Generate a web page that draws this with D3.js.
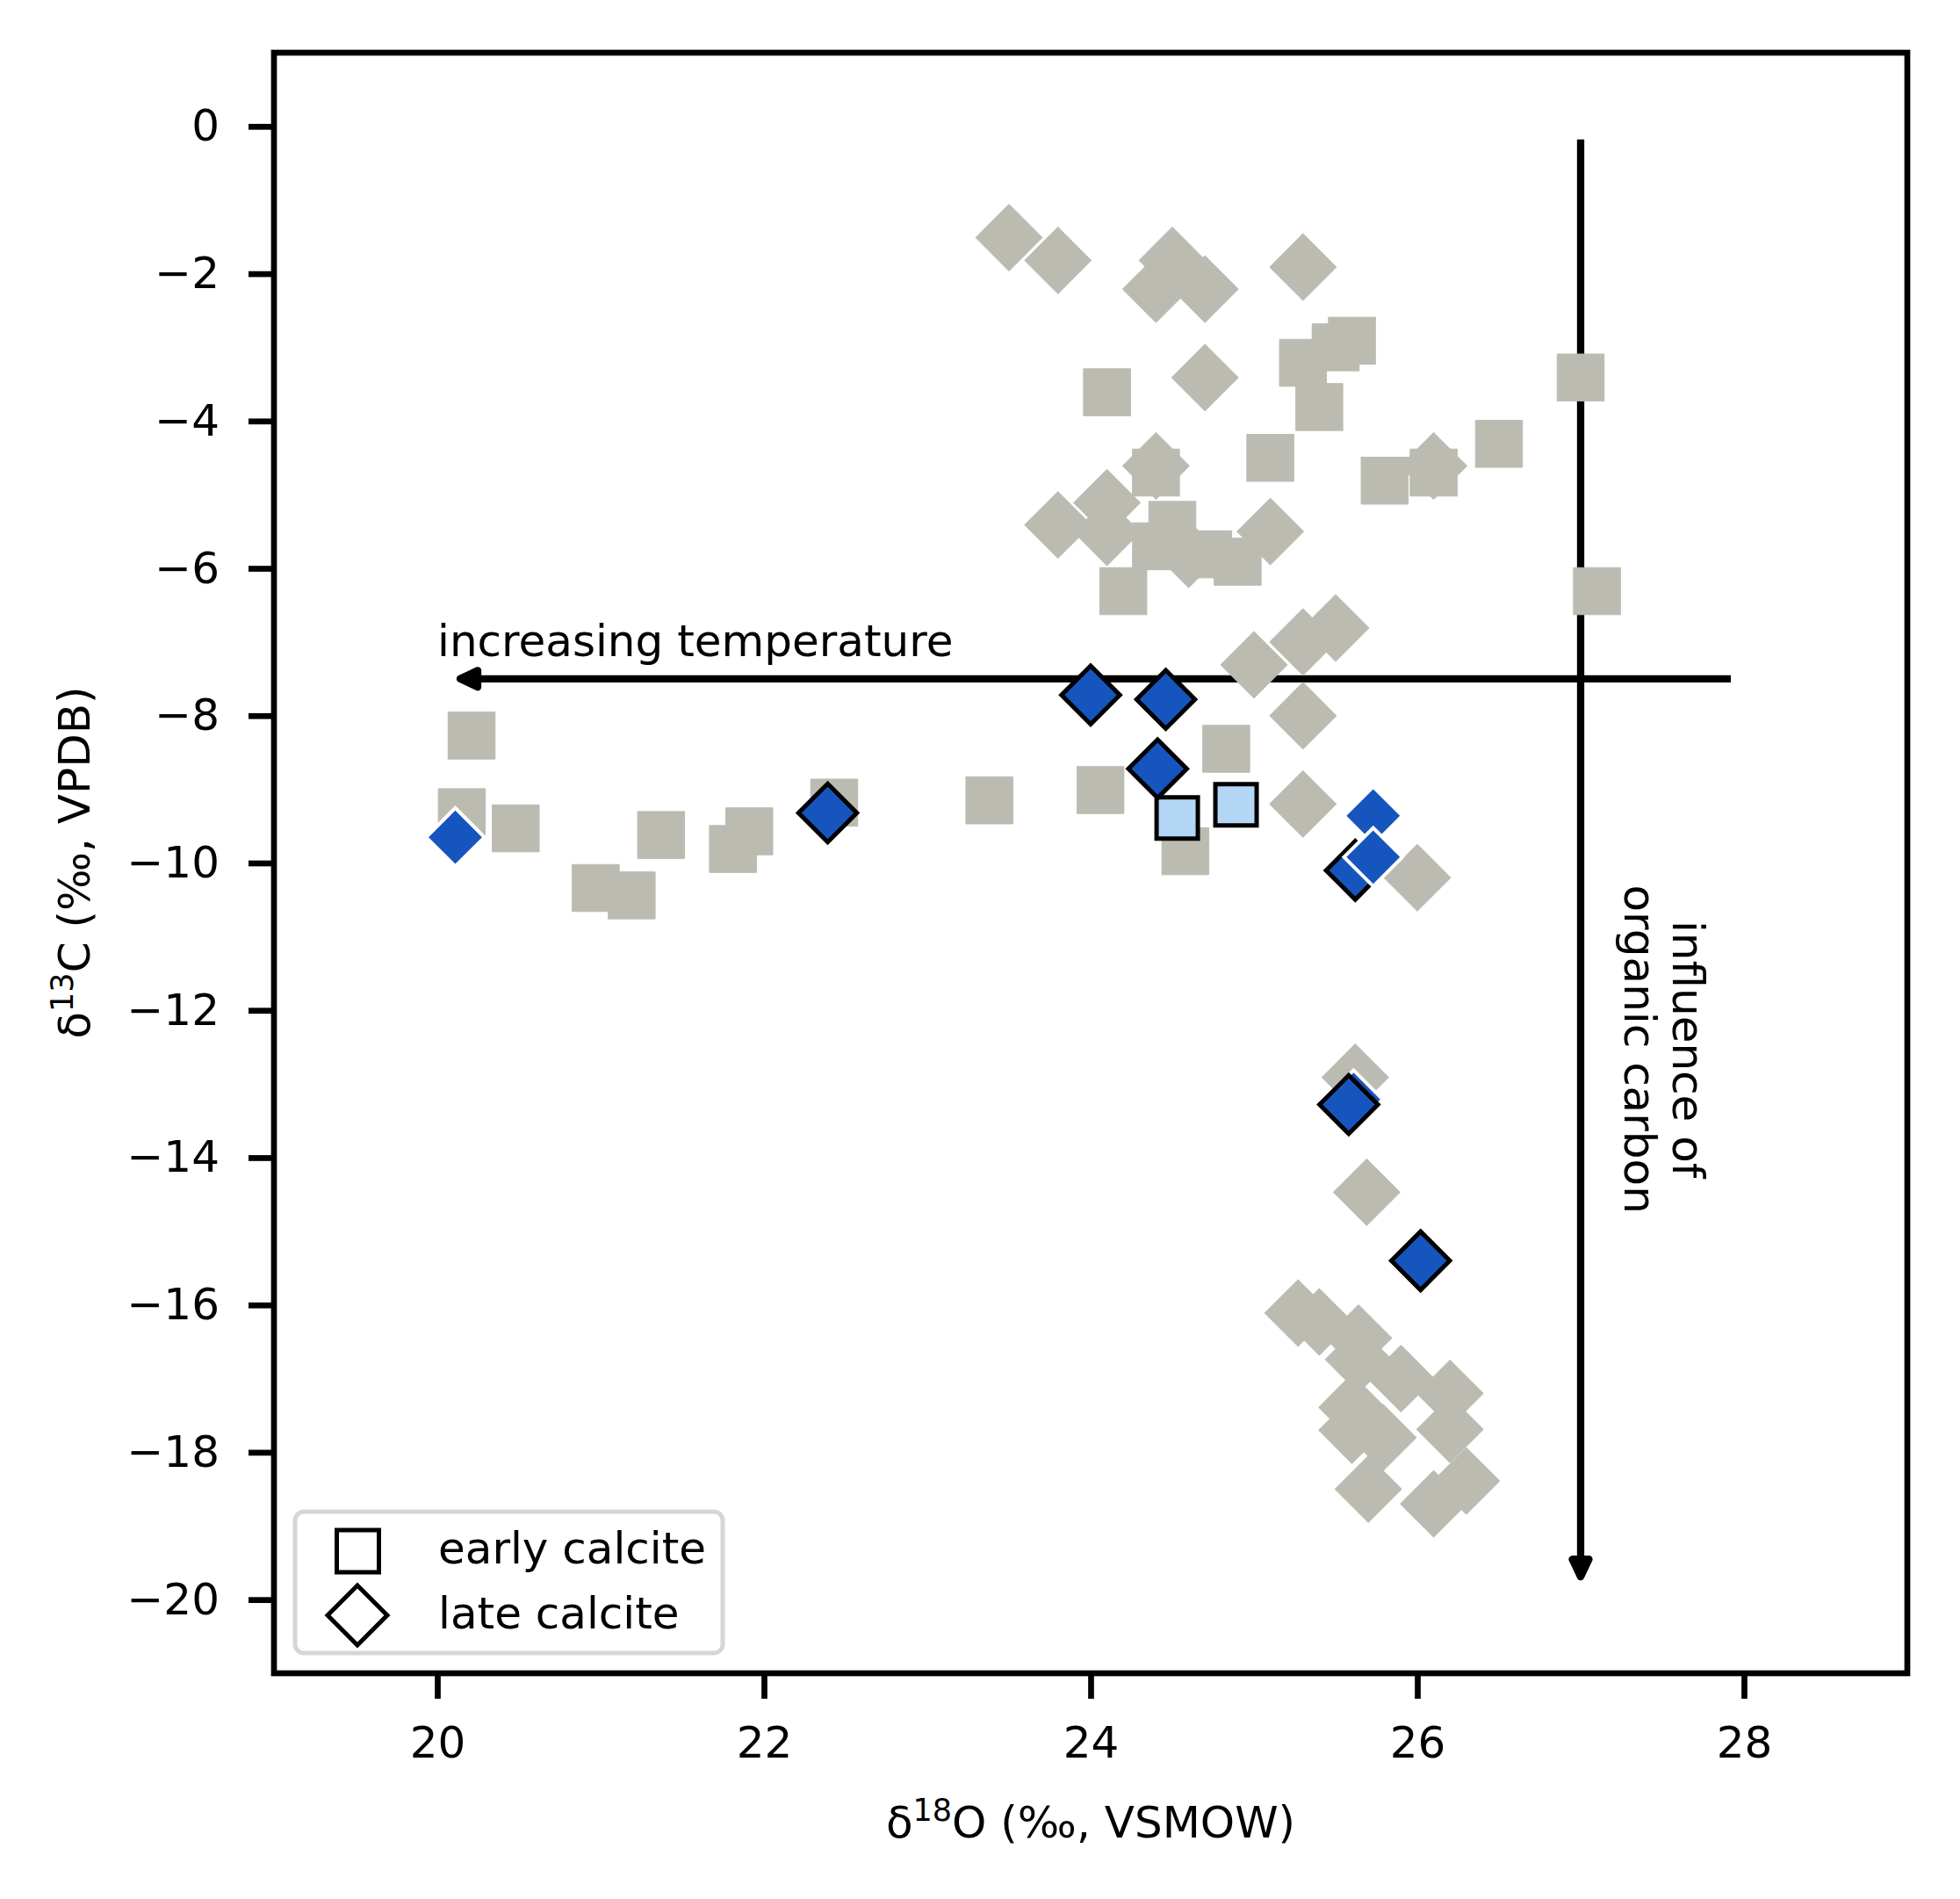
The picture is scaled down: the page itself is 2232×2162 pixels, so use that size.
<!DOCTYPE html>
<html><head><meta charset="utf-8">
<script src="https://cdn.jsdelivr.net/npm/d3@7"></script>
<style>body{margin:0;background:#fff} text{font-family:"DejaVu Sans",sans-serif;fill:#000}</style>
</head><body><svg id="c" width="2232" height="2162"></svg>
<script>
// ---------- data ----------
const xTicks = [20, 22, 24, 26, 28];
const yTicks = [0, -2, -4, -6, -8, -10, -12, -14, -16, -18, -20];

// grey background samples, late calcite (diamonds)
const greyDiamonds = [
  [23.50,-1.51],[23.80,-1.82],[24.50,-1.82],[24.40,-2.21],[24.70,-2.21],[25.30,-1.91],
  [24.70,-3.41],[24.40,-4.61],[26.10,-4.61],[24.10,-5.11],[23.80,-5.41],[24.10,-5.51],
  [24.60,-5.81],[25.10,-5.50],[25.50,-6.81],[25.30,-7.00],[25.00,-7.31],[25.30,-8.00],
  [25.30,-9.20],[26.00,-10.20],[25.62,-12.91],[25.69,-14.47],
  [25.27,-16.11],[25.40,-16.23],[25.64,-16.45],[25.64,-16.74],[25.90,-17.00],[26.20,-17.20],
  [25.60,-17.39],[25.60,-17.70],[25.79,-17.80],[26.20,-17.69],[25.70,-18.50],[26.10,-18.70],
  [26.30,-18.39]
];
// grey background samples, early calcite (squares)
const greySquares = [
  [20.21,-8.27],[20.15,-9.31],[20.48,-9.53],[20.97,-10.34],[21.19,-10.44],[21.37,-9.62],
  [21.81,-9.81],[21.91,-9.57],[22.43,-9.18],[23.38,-9.15],[24.06,-9.01],[24.58,-9.84],
  [24.83,-8.45],[24.10,-3.61],[25.30,-3.21],[25.50,-3.00],[25.60,-2.91],[25.40,-3.81],
  [27.00,-3.41],[24.40,-4.70],[25.10,-4.50],[25.80,-4.81],[26.10,-4.70],[26.50,-4.31],
  [24.50,-5.41],[24.40,-5.70],[24.72,-5.81],[24.90,-5.91],[24.20,-6.31],[27.10,-6.31]
];
// highlighted early calcite (light blue squares)
const earlyCalcite = [[24.53,-9.39],[24.89,-9.21]];
// highlighted late calcite (blue diamonds), third value: 1 = black outline, 0 = white outline
const lateCalcite = [
  [24.00,-7.72,1],[24.46,-7.78,1],[24.41,-8.72,1],[22.39,-9.32,1],[20.11,-9.65,0],
  [25.73,-9.36,0],[25.62,-10.10,1],[25.73,-9.92,0],[25.61,-13.21,0],[25.58,-13.28,1],
  [26.02,-15.40,1]
];
const legendLabels = ["early calcite", "late calcite"];
const tempArrow = [[28,-7.5],[20,-7.5]];
const organicArrow = [[27,0],[27,-20]];

// ---------- styles ----------
const GREY = "#bbbbb2", BLUE = "#1755be", LIGHT = "#b4d6f5";
const FS = 50;

const svg = d3.select("#c");
const W = 2232, H = 2162;
svg.append("rect").attr("width", W).attr("height", H).attr("fill", "#fff");

const x = d3.scaleLinear().domain([19, 29]).range([312, 2172]);
const y = d3.scaleLinear().domain([-21, 1]).range([1905, 60]);

// ---------- arrows (below markers) ----------
function arrow(p0, p1) {
  const X0 = x(p0[0]), Y0 = y(p0[1]), X1 = x(p1[0]), Y1 = y(p1[1]);
  const L = Math.hypot(X1 - X0, Y1 - Y0), ux = (X1 - X0) / L, uy = (Y1 - Y0) / L;
  const sA = 15, sB = 26, hl = 20, hw = 9.5;
  const Sx = X0 + ux * sA, Sy = Y0 + uy * sA;
  const Tx = X1 - ux * sB, Ty = Y1 - uy * sB;
  const Bx = Tx - ux * hl, By = Ty - uy * hl;
  const g = svg.append("g");
  g.append("line").attr("x1", Sx).attr("y1", Sy).attr("x2", Bx).attr("y2", By)
    .attr("stroke", "#000").attr("stroke-width", 8.3);
  g.append("path")
    .attr("d", `M${Tx},${Ty}L${Bx - uy * hw},${By + ux * hw}L${Bx + uy * hw},${By - ux * hw}Z`)
    .attr("fill", "#000").attr("stroke", "#000").attr("stroke-width", 8.3)
    .attr("stroke-linejoin", "round");
}
arrow(tempArrow[0], tempArrow[1]);
arrow(organicArrow[0], organicArrow[1]);

svg.append("text").attr("x", x(20)).attr("y", y(-7.19))
  .attr("font-size", FS).text("increasing temperature");

const oc = svg.append("g")
  .attr("transform", `translate(${x(27.48)},${y(-12.53)}) rotate(90)`);
oc.append("text").attr("x", 0).attr("y", -15.7).attr("text-anchor", "middle")
  .attr("font-size", FS).text("influence of");
oc.append("text").attr("x", 0).attr("y", 39.3).attr("text-anchor", "middle")
  .attr("font-size", FS).text("organic carbon");

// ---------- markers ----------
const sq = a => d3.symbol(d3.symbolSquare, a * a)();
const bigPath = sq(53.5), smallPath = sq(47);

svg.append("g").selectAll("path").data(greyDiamonds).join("path")
  .attr("d", bigPath)
  .attr("transform", d => `translate(${x(d[0])},${y(d[1])}) rotate(45)`)
  .attr("fill", GREY).attr("stroke", GREY).attr("stroke-width", 1).attr("stroke-linejoin", "round");

svg.append("g").selectAll("path").data(greySquares).join("path")
  .attr("d", bigPath)
  .attr("transform", d => `translate(${x(d[0])},${y(d[1])})`)
  .attr("fill", GREY).attr("stroke", GREY).attr("stroke-width", 1).attr("stroke-linejoin", "round");

svg.append("g").selectAll("path").data(earlyCalcite).join("path")
  .attr("d", smallPath)
  .attr("transform", d => `translate(${x(d[0])},${y(d[1])})`)
  .attr("fill", LIGHT).attr("stroke", "#000").attr("stroke-width", 5)
  .attr("stroke-linejoin", "miter");

svg.append("g").selectAll("path").data(lateCalcite).join("path")
  .attr("d", smallPath)
  .attr("transform", d => `translate(${x(d[0])},${y(d[1])}) rotate(45)`)
  .attr("fill", BLUE)
  .attr("stroke", d => d[2] ? "#000" : "#fff")
  .attr("stroke-width", d => d[2] ? 5 : 4)
  .attr("stroke-linejoin", "miter");

// ---------- axes ----------
const xAxis = svg.append("g").attr("transform", "translate(0,1905)")
  .call(d3.axisBottom(x).tickValues(xTicks).tickSize(29).tickPadding(31).tickFormat(d3.format("d")));
const yAxis = svg.append("g").attr("transform", "translate(312,0)")
  .call(d3.axisLeft(y).tickValues(yTicks).tickSize(29).tickPadding(33).tickFormat(d3.format("d")));
[xAxis, yAxis].forEach(a => {
  a.select(".domain").remove();
  a.selectAll(".tick line").attr("stroke", "#000").attr("stroke-width", 6.7);
  a.selectAll(".tick text").attr("font-size", FS).attr("font-family", "DejaVu Sans").attr("fill", "#000");
});

svg.append("rect").attr("x", 312).attr("y", 60).attr("width", 1860).attr("height", 1845)
  .attr("fill", "none").attr("stroke", "#000").attr("stroke-width", 6.7);

// axis labels
const xl = svg.append("text").attr("x", 1242).attr("y", 2092).attr("text-anchor", "middle")
  .attr("font-size", FS);
xl.append("tspan").text("δ");
xl.append("tspan").attr("font-size", 35).attr("dy", -19).text("18");
xl.append("tspan").attr("dy", 19).text("O (‰, VSMOW)");

const yl = svg.append("text").attr("transform", "translate(102,982) rotate(-90)")
  .attr("text-anchor", "middle").attr("font-size", FS);
yl.append("tspan").text("δ");
yl.append("tspan").attr("font-size", 35).attr("dy", -19).text("13");
yl.append("tspan").attr("dy", 19).text("C (‰, VPDB)");

// ---------- legend ----------
const lg = svg.append("g");
lg.append("rect").attr("x", 336).attr("y", 1721).attr("width", 487).attr("height", 161)
  .attr("rx", 10).attr("fill", "#fff").attr("fill-opacity", 0.8)
  .attr("stroke", "#d6d6d6").attr("stroke-width", 5);
const legPath = sq(48);
lg.append("path").attr("d", legPath).attr("transform", "translate(407.5,1766)")
  .attr("fill", "#fff").attr("stroke", "#000").attr("stroke-width", 5);
lg.append("path").attr("d", legPath).attr("transform", "translate(407,1839) rotate(45)")
  .attr("fill", "#fff").attr("stroke", "#000").attr("stroke-width", 5);
lg.selectAll("text.l").data(legendLabels).join("text").attr("class", "l")
  .attr("x", 499).attr("y", (d, i) => 1780 + i * 74)
  .attr("font-size", FS).text(d => d);
</script></body></html>
